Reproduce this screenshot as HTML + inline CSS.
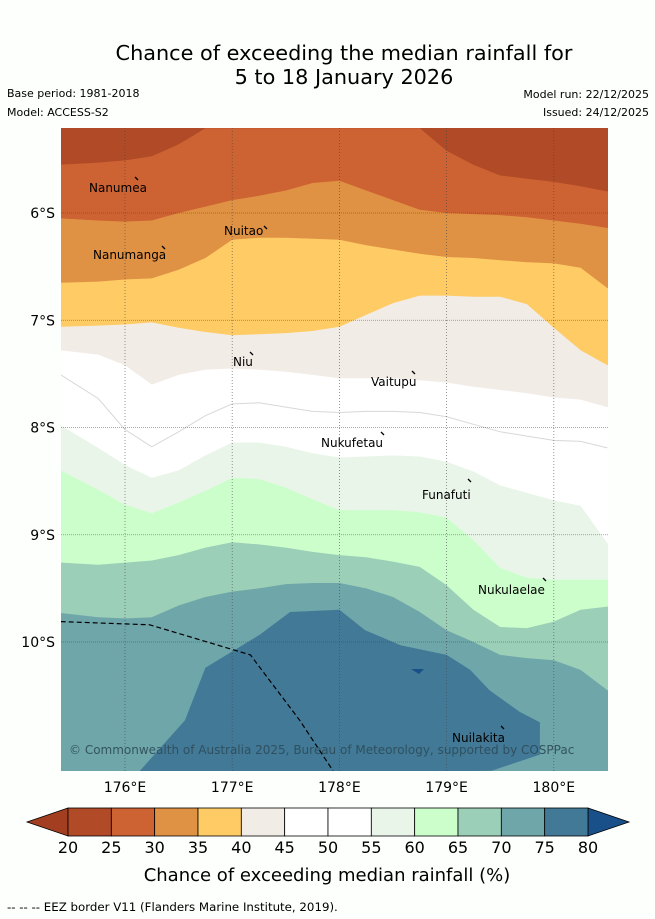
<!DOCTYPE html>
<html><head><meta charset="utf-8">
<style>
html,body{margin:0;padding:0;background:#fdfffc;}
body{width:655px;height:919px;position:relative;overflow:hidden;font-family:"Liberation Sans","DejaVu Sans",sans-serif;}
.t{position:absolute;color:#000;white-space:nowrap;}
</style></head>
<body>
<div class="t" style="left:0;width:688px;top:41px;text-align:center;font-size:20.8px;line-height:24px;font-family:'DejaVu Sans',sans-serif;">Chance of exceeding the median rainfall for<br>5 to 18 January 2026</div>
<div class="t" style="left:7px;top:87px;font-size:11px;font-family:'DejaVu Sans',sans-serif;">Base period: 1981-2018</div>
<div class="t" style="left:7px;top:106px;font-size:11px;font-family:'DejaVu Sans',sans-serif;">Model: ACCESS-S2</div>
<div class="t" style="right:6px;top:88px;font-size:11px;font-family:'DejaVu Sans',sans-serif;">Model run: 22/12/2025</div>
<div class="t" style="right:6px;top:106px;font-size:11px;font-family:'DejaVu Sans',sans-serif;">Issued: 24/12/2025</div>
<svg id="map" width="655" height="919" style="position:absolute;left:0;top:0;font-family:'DejaVu Sans',sans-serif;"></svg>
<script>
const lons=[175.4,175.75,176.0,176.25,176.5,176.75,177.0,177.25,177.5,177.75,178.0,178.25,178.5,178.75,179.0,179.25,179.5,179.75,180.0,180.25,180.5];
const b20=[5.55,5.53,5.51,5.47,5.36,5.21,5.21,5.21,5.21,5.21,5.21,5.21,5.21,5.21,5.42,5.55,5.65,5.68,5.71,5.75,5.80];
const b25=[6.05,6.07,6.08,6.07,6.0,5.94,5.88,5.84,5.79,5.72,5.70,5.79,5.88,5.97,6.0,6.01,6.02,6.04,6.07,6.10,6.14];
const b30=[6.65,6.64,6.62,6.61,6.53,6.42,6.25,6.23,6.23,6.24,6.25,6.30,6.34,6.38,6.41,6.42,6.44,6.46,6.47,6.51,6.70];
const b35=[7.06,7.05,7.04,7.02,7.07,7.11,7.14,7.13,7.12,7.10,7.06,6.95,6.84,6.77,6.77,6.78,6.78,6.85,7.07,7.28,7.42];
const b40=[7.28,7.32,7.42,7.60,7.51,7.46,7.45,7.46,7.48,7.51,7.54,7.54,7.54,7.56,7.58,7.62,7.65,7.68,7.72,7.74,7.81];
const b45=[7.51,7.73,8.02,8.18,8.04,7.89,7.78,7.77,7.81,7.85,7.86,7.85,7.85,7.86,7.90,7.97,8.04,8.08,8.12,8.13,8.19];
const b50=[7.98,8.19,8.35,8.47,8.40,8.26,8.14,8.14,8.18,8.24,8.28,8.27,8.26,8.27,8.32,8.41,8.54,8.61,8.68,8.73,9.08];
const b55=[8.40,8.58,8.72,8.80,8.70,8.59,8.47,8.48,8.56,8.67,8.77,8.77,8.77,8.79,8.84,9.05,9.31,9.40,9.42,9.42,9.42];
const b60=[9.26,9.28,9.26,9.24,9.19,9.12,9.07,9.09,9.12,9.16,9.19,9.21,9.25,9.30,9.47,9.70,9.86,9.87,9.81,9.70,9.67];
const b65=[9.73,9.77,9.78,9.77,9.66,9.58,9.53,9.50,9.46,9.45,9.45,9.50,9.58,9.72,9.89,10.0,10.12,10.15,10.17,10.26,10.45];
const core75Lon=[176.14,176.56,176.75,177.26,177.54,178.0,178.24,178.57,179.0,179.22,179.40,179.68,179.87,179.87,179.42];
const core75Lat=[11.20,10.73,10.24,9.93,9.72,9.70,9.89,10.03,10.12,10.26,10.45,10.65,10.75,11.05,11.20];
const eezLon=[175.4,176.23,177.17,177.63,177.94];
const eezLat=[9.81,9.84,10.12,10.73,11.20];
const levels=[20,25,30,35,40,45,50,55,60,65,70,75,80];
const colors=["#b04a27","#cd6232","#e09244","#fecb65","#f2ece6","#ffffff","#ffffff","#eaf5e9","#ccfecb","#9ccfb7","#6ea6aa","#417996"];
const lonTicks=[176,177,178,179,180];
const latTicks=[6,7,8,9,10];
const islands=[["Nanumea",89,188,135,177],["Nuitao",224,231,264,226],["Nanumanga",93,255,162,246],["Niu",233,362,250,352],["Vaitupu",371,382,412,371],["Nukufetau",321,443,381,432],["Funafuti",422,495,468,479],["Nukulaelae",478,590,543,578],["Nuilakita",452,738,501,726]];

const X0=61,X1=608,Y0=128,Y1=771;
const xs=lon=>125+(lon-176)*107.2;
const ys=lat=>213+(lat-6)*107.25;
const svg=document.getElementById('map');
const NS='http://www.w3.org/2000/svg';
function mk(tag,attrs,parent){const e=document.createElementNS(NS,tag);for(const k in attrs)e.setAttribute(k,attrs[k]);(parent||svg).appendChild(e);return e;}
const cp=mk('clipPath',{id:'clip'});mk('rect',{x:X0,y:Y0,width:X1-X0,height:Y1-Y0},cp);
const g=mk('g',{'clip-path':'url(#clip)'});
const bounds=[b20,b25,b30,b35,b40,b45,b50,b55,b60,b65];
const bg=mk('rect',{x:X0,y:Y0,width:X1-X0,height:Y1-Y0,fill:colors[0]},g);


const bandIdx=[1,2,3,4,5,6,7,8,9,10];
bounds.forEach((b,i)=>{
  let d='M'+lons.map((lo,j)=>xs(lo).toFixed(1)+','+ys(b[j]).toFixed(1)).join('L');
  d+='L'+(X1+5)+','+ys(b[b.length-1]).toFixed(1)+'L'+(X1+5)+','+(Y1+5)+'L'+(X0-5)+','+(Y1+5)+'L'+(X0-5)+','+ys(b[0]).toFixed(1)+'Z';
  const p=mk('path',{d:d,fill:colors[bandIdx[i]]},g);
  
  
});
{const b=b45;const d='M'+lons.map((lo,j)=>xs(lo).toFixed(1)+','+ys(b[j]).toFixed(1)).join('L');
 const p=mk('path',{d:d,fill:'none',stroke:'#d8d8d8','stroke-width':1},g);
 
 }
{const d='M'+core75Lon.map((lo,j)=>xs(lo).toFixed(1)+','+ys(core75Lat[j]).toFixed(1)).join('L')+'L'+xs(core75Lon[0]).toFixed(1)+','+(Y1+5)+'Z';
 const p=mk('path',{d:d,fill:colors[11]},g);
 
 }
mk('path',{d:'M411,669L424,669L419,674Z',fill:'#1a5089'},g);
lonTicks.forEach(lo=>{const l=mk('line',{x1:xs(lo),x2:xs(lo),y1:Y0,y2:Y1,stroke:'#444','stroke-width':0.8,'stroke-dasharray':'1,2','stroke-opacity':0.7},g);
 
 
 const t=mk('text',{x:xs(lo),y:792,'font-size':14,'text-anchor':'middle',fill:'#000'});t.textContent=lo+'°E';
 
 });
latTicks.forEach(la=>{const l=mk('line',{x1:X0,x2:X1,y1:ys(la),y2:ys(la),stroke:'#444','stroke-width':0.8,'stroke-dasharray':'1,1','stroke-opacity':0.6},g);
 
 
 const t=mk('text',{x:55,y:ys(la)+5,'font-size':14,'text-anchor':'end',fill:'#000'});t.textContent=la+'°S';
 
 });
{const d='M'+eezLon.map((lo,j)=>xs(lo).toFixed(1)+','+ys(eezLat[j]).toFixed(1)).join('L');
 const p=mk('path',{d:d,fill:'none',stroke:'#000','stroke-width':1.2,'stroke-dasharray':'5,3'},g);
 
 }
islands.forEach(s=>{const t=mk('text',{x:s[1],y:s[2]+4,'font-size':12,fill:'#000'},g);t.textContent=s[0];
 
 
 const m=mk('line',{x1:s[3],y1:s[4],x2:s[3]+3,y2:s[4]+3,stroke:'#000','stroke-width':1.3},g);
 
 });
{const t=mk('text',{x:69,y:754,'font-size':12,fill:'#2e4b5a','fill-opacity':0.9},g);t.textContent='© Commonwealth of Australia 2025, Bureau of Meteorology, supported by COSPPac';
 
 }
const cbX0=68,cbX1=588,cbY=808,cbH=28,cw=(cbX1-cbX0)/12;
const under=mk('path',{d:`M${cbX0},${cbY}L27,${cbY+cbH/2}L${cbX0},${cbY+cbH}Z`,fill:'#a33e20',stroke:'#000','stroke-width':0.8});


const over=mk('path',{d:`M${cbX1},${cbY}L629,${cbY+cbH/2}L${cbX1},${cbY+cbH}Z`,fill:'#1a5089',stroke:'#000','stroke-width':0.8});


colors.forEach((c,i)=>{const r=mk('rect',{x:cbX0+i*cw,y:cbY,width:cw,height:cbH,fill:c,stroke:'#000','stroke-width':0.8});
 
 });
levels.forEach((v,i)=>{const t=mk('text',{x:cbX0+i*cw,y:853,'font-size':16,'text-anchor':'middle',fill:'#000'});t.textContent=v;
 
 });
{const t=mk('text',{x:327,y:881,'font-size':18,'text-anchor':'middle',fill:'#000'});t.textContent='Chance of exceeding median rainfall (%)';
 
 }
{const t=mk('text',{x:7,y:911,'font-size':11.8,fill:'#000'});t.textContent='--  --  -- EEZ border V11 (Flanders Marine Institute, 2019).';
 
 }
</script>
</body></html>
